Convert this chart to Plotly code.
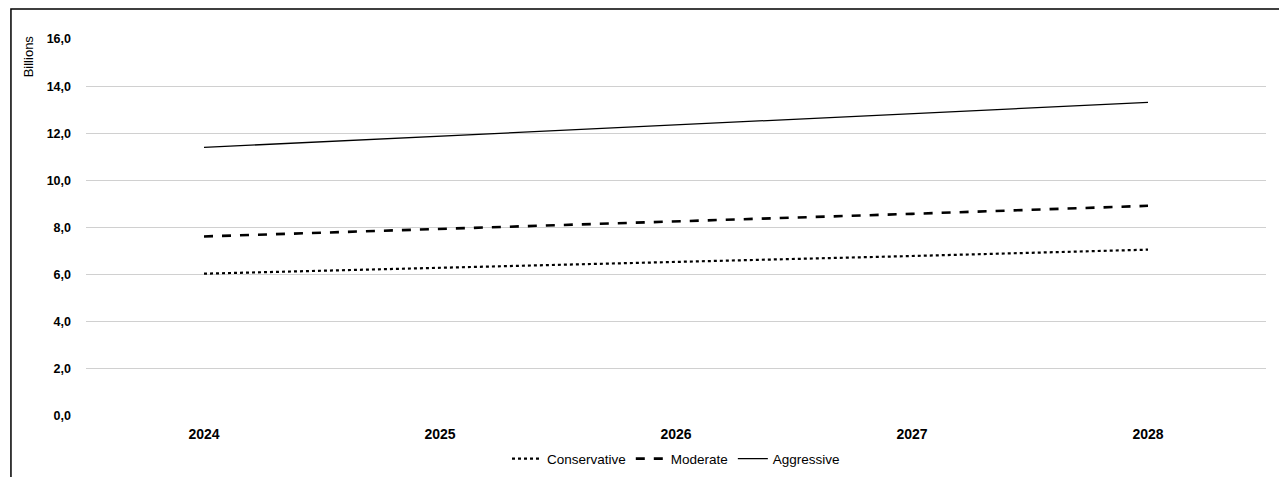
import plotly.graph_objects as go

years = ["2024", "2025", "2026", "2027", "2028"]
conservative = [6.04, 6.28, 6.54, 6.79, 7.06]
moderate = [7.62, 7.93, 8.25, 8.58, 8.92]
aggressive = [11.40, 11.87, 12.35, 12.83, 13.31]
y_ticks = [0, 2, 4, 6, 8, 10, 12, 14, 16]

FONT = "Liberation Sans Narrow, Arial Narrow, Liberation Sans, Arial, sans-serif"

fig = go.Figure()
fig.add_trace(go.Scatter(x=years, y=conservative, name="Conservative", mode="lines",
                         line=dict(color="#000000", width=2.2, dash="dot")))
fig.add_trace(go.Scatter(x=years, y=moderate, name="Moderate", mode="lines",
                         line=dict(color="#000000", width=2.6, dash="dash")))
fig.add_trace(go.Scatter(x=years, y=aggressive, name="Aggressive", mode="lines",
                         line=dict(color="#000000", width=1.3)))

fig.update_layout(
    width=1279, height=477,
    margin=dict(l=86, r=13, t=39, b=61, autoexpand=False),
    paper_bgcolor="white", plot_bgcolor="white",
    separators=",.",
    font=dict(family=FONT, color="#000000", size=12),
    showlegend=True,
    legend=dict(orientation="h", x=0.5, xanchor="center",
                yref="container", y=0.038, yanchor="middle",
                font=dict(family=FONT, size=13.5), tracegroupgap=0),
    xaxis=dict(type="category", range=[-0.5, 4.5], automargin=False,
               showgrid=False, showline=False, zeroline=False, ticks="",
               tickfont=dict(family="Liberation Sans, Arial, sans-serif", size=14,
                             color="#000000", weight="bold"),
               ticklabelstandoff=8),
    yaxis=dict(range=[0, 16], tickvals=y_ticks, tickformat=".1f", automargin=False,
               showgrid=True, gridcolor="#d0d0d0", gridwidth=1.3,
               zeroline=False, showline=False, ticks="",
               tickfont=dict(family=FONT, size=12.5, color="#000000", weight="bold"),
               ticklabelstandoff=14),
    shapes=[dict(type="rect", xref="paper", yref="paper",
                 x0=-0.0636, x1=1.2, y0=-0.5, y1=1.0796,
                 line=dict(color="#000000", width=1.5), fillcolor="rgba(0,0,0,0)",
                 layer="below")],
    annotations=[dict(text="Billions", xref="paper", yref="paper",
                      x=-0.048, y=0.955, textangle=-90, showarrow=False,
                      xanchor="center", yanchor="middle",
                      font=dict(family=FONT, size=13, color="#000000"))],
)

fig.write_html("out.html")
